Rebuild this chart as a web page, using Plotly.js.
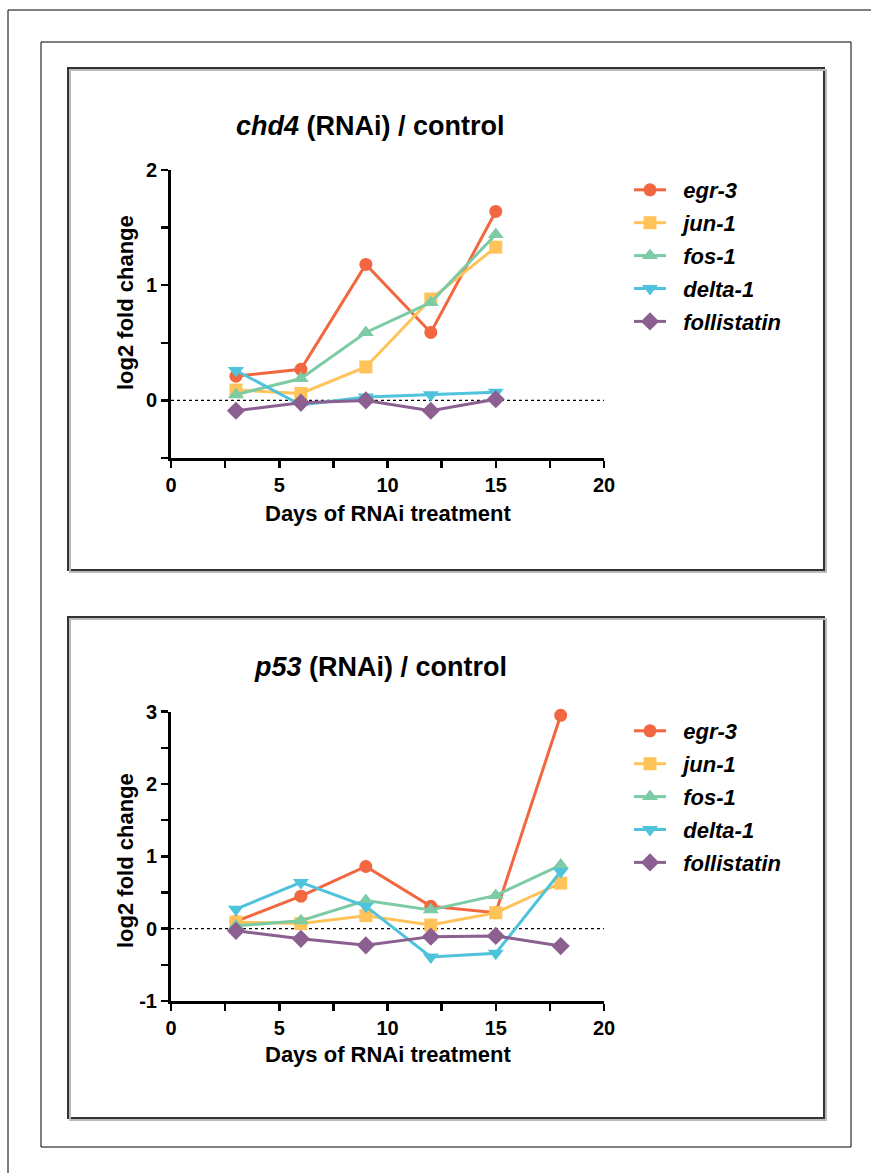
<!DOCTYPE html>
<html>
<head>
<meta charset="utf-8">
<script src="https://cdn.plot.ly/plotly-3.0.1.min.js"></script>
<style>html,body{margin:0;padding:0;background:#fff;}</style>
</head>
<body>
<div id="chart" style="width:871px;height:1173px;"></div>
<script>
// ---- data ----
const genes = ["egr-3", "jun-1", "fos-1", "delta-1", "follistatin"];
const days_chd4 = [3, 6, 9, 12, 15];
const days_p53 = [3, 6, 9, 12, 15, 18];

const egr3_chd4 = [0.21, 0.27, 1.18, 0.59, 1.64];
const jun1_chd4 = [0.09, 0.06, 0.29, 0.88, 1.33];
const fos1_chd4 = [0.05, 0.19, 0.59, 0.85, 1.44];
const delta1_chd4 = [0.26, -0.04, 0.03, 0.05, 0.07];
const foll_chd4 = [-0.09, -0.02, 0.00, -0.09, 0.01];

const egr3_p53 = [0.10, 0.45, 0.86, 0.31, 0.22, 2.95];
const jun1_p53 = [0.09, 0.07, 0.18, 0.05, 0.22, 0.63];
const fos1_p53 = [0.04, 0.11, 0.39, 0.26, 0.46, 0.88];
const delta1_p53 = [0.27, 0.64, 0.31, -0.39, -0.34, 0.79];
const foll_p53 = [-0.03, -0.14, -0.23, -0.11, -0.10, -0.24];

const xTickVals = [0, 5, 10, 15, 20];
const yTickVals_chd4 = [0, 1, 2];
const yTickVals_p53 = [-1, 0, 1, 2, 3];

// ---- styles ----
const colors = ["#F26640", "#FFC35A", "#7DCBA5", "#4FC3DB", "#8C5F91"];
const symbols = ["circle", "square", "triangle-up", "triangle-down", "diamond"];
const msizes = [13, 13, 14, 14, 14];

const W = 871, H = 1173;
const px = v => v / W;
const py = v => 1 - v / H;

const FONT = "Arial, 'Liberation Sans', sans-serif";

const seriesChd4 = [egr3_chd4, jun1_chd4, fos1_chd4, delta1_chd4, foll_chd4];
const seriesP53 = [egr3_p53, jun1_p53, fos1_p53, delta1_p53, foll_p53];

const traces = [];
seriesChd4.forEach((ys, i) => {
  traces.push({
    type: "scatter", mode: "lines+markers",
    x: days_chd4, y: ys, name: "  " + genes[i],
    xaxis: "x", yaxis: "y", legend: "legend", legendgroup: "a" + i,
    line: {color: colors[i], width: 3},
    marker: {color: colors[i], symbol: symbols[i], size: msizes[i]},
    cliponaxis: false
  });
});
seriesP53.forEach((ys, i) => {
  traces.push({
    type: "scatter", mode: "lines+markers",
    x: days_p53, y: ys, name: "  " + genes[i],
    xaxis: "x2", yaxis: "y2", legend: "legend2", legendgroup: "b" + i,
    line: {color: colors[i], width: 3},
    marker: {color: colors[i], symbol: symbols[i], size: msizes[i]},
    cliponaxis: false
  });
});

function xAxis(anchor) {
  return {
    domain: [px(171), px(604)], anchor: anchor,
    range: [0, 20], tickvals: xTickVals, ticktext: xTickVals.map(String),
    showline: true, linecolor: "#000", linewidth: 3,
    ticks: "outside", ticklen: 7, tickwidth: 2.5, tickcolor: "#000",
    minor: {dtick: 2.5, tick0: 0, ticks: "outside", ticklen: 7, tickwidth: 2.5, tickcolor: "#000"},
    showgrid: false, zeroline: false, fixedrange: true,
    tickfont: {family: FONT, size: 20, color: "#000", weight: "bold"}
  };
}
function yAxis(domain, range, tv, anchor) {
  return {
    domain: domain, anchor: anchor,
    range: range, tickvals: tv, ticktext: tv.map(String),
    showline: true, linecolor: "#000", linewidth: 3,
    ticks: "outside", ticklen: 7, tickwidth: 2.5, tickcolor: "#000",
    minor: {dtick: 0.5, tick0: 0, ticks: "outside", ticklen: 7, tickwidth: 2.5, tickcolor: "#000"},
    showgrid: false, zeroline: false, fixedrange: true,
    tickfont: {family: FONT, size: 20, color: "#000", weight: "bold"}
  };
}

const frameLine = {color: "#000", width: 1};
const panelLine = {color: "#333", width: 2};

const shapes = [
  // outer page frame (left and top edges)
  {type: "line", xref: "paper", yref: "paper", x0: px(8), x1: px(8), y0: py(10), y1: 0, line: frameLine},
  {type: "line", xref: "paper", yref: "paper", x0: px(8), x1: 1, y0: py(10), y1: py(10), line: frameLine},
  // middle frame
  {type: "rect", xref: "paper", yref: "paper", x0: px(41), x1: px(851), y0: py(42), y1: py(1147), line: frameLine},
  // panel shadows
  {type: "rect", xref: "paper", yref: "paper", x0: px(70), x1: px(826), y0: py(70), y1: py(572), line: {color: "#bbb", width: 2}},
  {type: "rect", xref: "paper", yref: "paper", x0: px(70), x1: px(826), y0: py(619), y1: py(1120), line: {color: "#bbb", width: 2}},
  // panels
  {type: "rect", xref: "paper", yref: "paper", x0: px(68), x1: px(824), y0: py(68), y1: py(570), line: panelLine, fillcolor: "#fff", layer: "below"},
  {type: "rect", xref: "paper", yref: "paper", x0: px(68), x1: px(824), y0: py(617), y1: py(1118), line: panelLine, fillcolor: "#fff", layer: "below"},
  // zero dotted lines
  {type: "line", xref: "x", yref: "y", x0: 0, x1: 20, y0: 0, y1: 0, line: {color: "#000", width: 1.3, dash: "dot"}, layer: "below"},
  {type: "line", xref: "x2", yref: "y2", x0: 0, x1: 20, y0: 0, y1: 0, line: {color: "#000", width: 1.3, dash: "dot"}, layer: "below"}
];

const titleFont = {family: FONT, size: 27, color: "#000", weight: "bold"};
const axTitleFont = {family: FONT, size: 22, color: "#000", weight: "bold"};

const annotations = [
  {xref: "paper", yref: "paper", x: px(370), y: py(126), xanchor: "center", yanchor: "middle",
   text: "<i>chd4</i> (RNAi) / control", showarrow: false, font: titleFont},
  {xref: "paper", yref: "paper", x: px(380), y: py(667), xanchor: "center", yanchor: "middle",
   text: "<i>p53</i> (RNAi) / control", showarrow: false, font: titleFont},
  {xref: "paper", yref: "paper", x: px(388), y: py(513), xanchor: "center", yanchor: "middle",
   text: "Days of RNAi treatment", showarrow: false, font: axTitleFont},
  {xref: "paper", yref: "paper", x: px(388), y: py(1054), xanchor: "center", yanchor: "middle",
   text: "Days of RNAi treatment", showarrow: false, font: axTitleFont},
  {xref: "paper", yref: "paper", x: px(125), y: py(302), xanchor: "center", yanchor: "middle", textangle: -90,
   text: "log2 fold change", showarrow: false, font: axTitleFont},
  {xref: "paper", yref: "paper", x: px(125), y: py(860), xanchor: "center", yanchor: "middle", textangle: -90,
   text: "log2 fold change", showarrow: false, font: axTitleFont}
];

const legendFont = {family: FONT, size: 22, color: "#000", weight: "bold", style: "italic"};
function legend(topPx) {
  return {
    x: px(629), y: py(topPx), xanchor: "left", yanchor: "top",
    bgcolor: "rgba(0,0,0,0)", borderwidth: 0, font: legendFont,
    tracegroupgap: 1.3, itemwidth: 32, itemclick: false, itemdoubleclick: false,
    traceorder: "grouped"
  };
}

const layout = {
  width: W, height: H,
  margin: {l: 0, r: 0, t: 0, b: 0},
  paper_bgcolor: "#fff", plot_bgcolor: "rgba(0,0,0,0)",
  showlegend: true,
  xaxis: xAxis("y"),
  yaxis: yAxis([py(458), py(170)], [-0.5, 2], yTickVals_chd4, "x"),
  xaxis2: xAxis("y2"),
  yaxis2: yAxis([py(1001), py(711.7)], [-1, 3], yTickVals_p53, "x2"),
  legend: legend(169),
  legend2: legend(710),
  shapes: shapes,
  annotations: annotations
};

Plotly.newPlot("chart", traces, layout, {displayModeBar: false, staticPlot: true});
</script>
</body>
</html>
